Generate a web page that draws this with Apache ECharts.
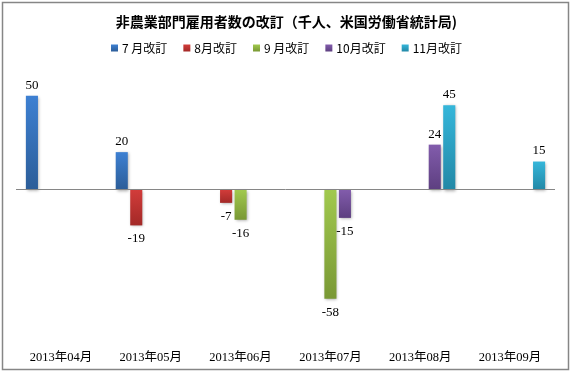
<!DOCTYPE html>
<html>
<head>
<meta charset="utf-8">
<script src="https://cdn.jsdelivr.net/npm/echarts@6/dist/echarts.min.js"></script>
<style>
  html, body { margin: 0; padding: 0; background: #fff; }
  #main { width: 573px; height: 376px; }
</style>
</head>
<body>
<div id="main"></div>
<script>
var months = ['2013年04月', '2013年05月', '2013年06月', '2013年07月', '2013年08月', '2013年09月'];
var seriesNames = ['7 月改訂', '8月改訂', '9 月改訂', '10月改訂', '11月改訂'];
var rev7 = [50, 20, null, null, null, null];
var rev8 = [null, -19, -7, null, null, null];
var rev9 = [null, null, -16, -58, null, null];
var rev10 = [null, null, null, -15, 24, null];
var rev11 = [null, null, null, null, 45, 15];
var allValues = [rev7, rev8, rev9, rev10, rev11];

// light top -> dark bottom, excel style
var colors = [
  ['#3d80d2', '#2c5d98'],
  ['#d23c3a', '#a32927'],
  ['#a1c94e', '#799834'],
  ['#825cac', '#5d3f80'],
  ['#35b6da', '#2288a6']
];

var chart = echarts.init(document.getElementById('main'), null, { renderer: 'canvas' });

function grad(c) {
  return new echarts.graphic.LinearGradient(0, 0, 0, 1, [
    { offset: 0, color: c[0] },
    { offset: 1, color: c[1] }
  ]);
}

function makeData(arr) {
  return arr.map(function (v) {
    if (v == null) return null;
    return {
      value: v,
      label: { position: v >= 0 ? 'top' : 'bottom', distance: v >= 0 ? 4 : 7 }
    };
  });
}

var series = seriesNames.map(function (name, i) {
  var s = {
    name: name,
    type: 'bar',
    data: makeData(allValues[i]),
    barGap: '20%',
    barCategoryGap: '22%',
    itemStyle: {
      color: grad(colors[i]),
      shadowColor: 'rgba(0,0,0,0.35)',
      shadowBlur: 3,
      shadowOffsetX: 1,
      shadowOffsetY: 1
    },
    label: {
      show: true,
      color: '#000',
      fontFamily: 'Liberation Serif',
      fontSize: 13
    }
  };
  if (i === 0) {
    s.markLine = {
      silent: true,
      symbol: 'none',
      label: { show: false },
      lineStyle: { color: '#868686', width: 1, type: 'solid' },
      data: [{ yAxis: 0 }]
    };
  }
  return s;
});

var option = {
  animation: false,
  backgroundColor: '#fff',
  color: colors.map(function (c) { return c[0]; }),
  title: {
    text: '非農業部門雇用者数の改訂（千人、米国労働省統計局)',
    left: 'center',
    top: 10,
    textStyle: {
      fontFamily: 'Noto Sans CJK JP',
      fontWeight: 'bold',
      fontSize: 14,
      color: '#000'
    }
  },
  legend: {
    top: 37,
    left: 'center',
    itemWidth: 7,
    itemHeight: 7,
    itemGap: 16,
    icon: 'rect',
    textStyle: {
      fontFamily: 'Noto Sans CJK JP',
      fontSize: 12,
      color: '#000',
      padding: [0, 0, 0, -1]
    },
    data: seriesNames
  },
  graphic: [{
    type: 'rect',
    shape: { x: 2.5, y: 2.5, width: 566, height: 367 },
    style: { fill: 'none', stroke: '#868686', lineWidth: 1.5 },
    silent: true
  }],
  grid: {
    left: 16,
    right: 18,
    top: 77,
    bottom: 36
  },
  xAxis: {
    type: 'category',
    data: months,
    axisLine: { show: false },
    axisTick: { show: false },
    axisLabel: {
      margin: 11,
      color: '#000',
      fontFamily: 'Liberation Serif, Noto Sans CJK JP',
      fontSize: 12.5
    }
  },
  yAxis: {
    type: 'value',
    min: -80,
    max: 60,
    interval: 20,
    show: false,
    splitLine: { show: false }
  },
  series: series
};

chart.setOption(option);
</script>
</body>
</html>
